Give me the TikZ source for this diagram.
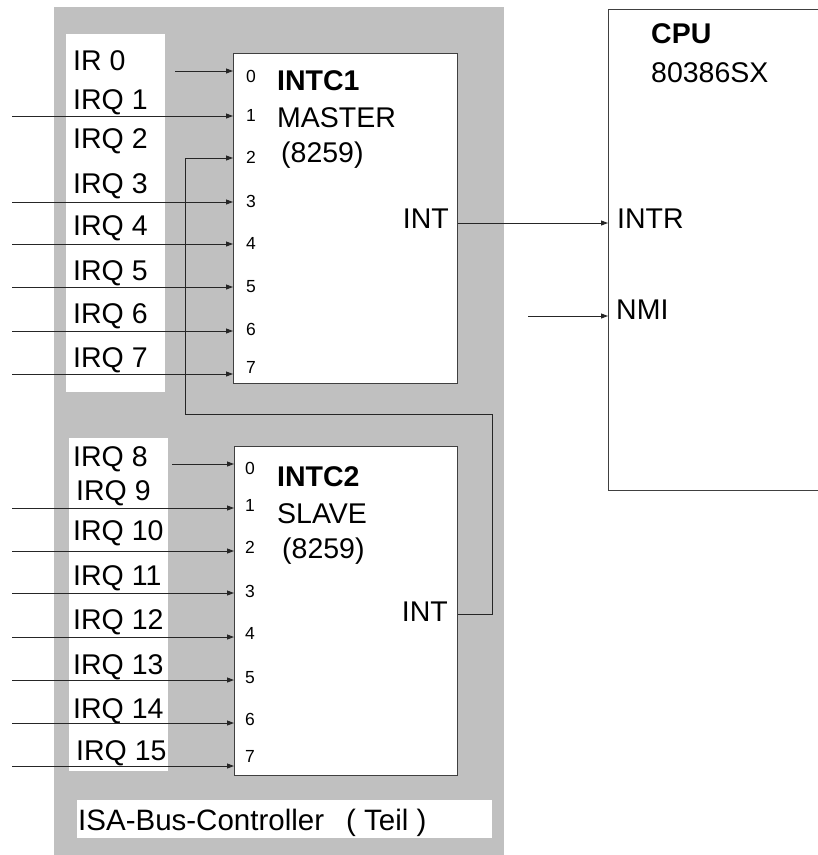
\documentclass[tikz,border=0pt]{standalone}
\usepackage{fontspec}
\setmainfont{Liberation Sans}
\usetikzlibrary{arrows.meta}
\definecolor{bggray}{HTML}{C0C0C0}
\definecolor{edge}{HTML}{404040}
\begin{document}
\begin{tikzpicture}[x=1pt,y=-1pt,
  lbl/.style={anchor=base west,inner sep=0pt,font=\fontsize{28.5}{32}\selectfont},
  pinlbl/.style={anchor=base west,inner sep=0pt,font=\fontsize{17.5}{20}\selectfont},
  blk/.style={draw=edge,line width=1.2pt,fill=white,anchor=north west,inner sep=0pt},
  whitecol/.style={fill=white,anchor=north west,inner sep=0pt},
  conn/.style={draw=black!85,line width=0.9pt},
  arr/.style={conn,-{Triangle[length=7pt,width=5pt]}}
]
\clip (0,0) rectangle (818,855);
\fill[white] (0,0) rectangle (818,855);
% background of the ISA bus controller
\node[fill=bggray,anchor=north west,inner sep=0pt,minimum width=450pt,minimum height=848pt] (isa) at (54,7) {};
\node[whitecol,minimum width=99pt,minimum height=358pt] (col1) at (66,34) {};
\node[whitecol,minimum width=99pt,minimum height=333pt] (col2) at (69,438) {};
\node[whitecol,minimum width=415pt,minimum height=38pt] (isalbl) at (77,800) {};
\node[lbl,font=\fontsize{29.5}{32}\selectfont] (isatext) at (78,830) {ISA-Bus-Controller\hspace{0.75em}( Teil )};

% blocks
\node[blk,minimum width=224pt,minimum height=330pt] (intc1) at (233,53) {};
\node[blk,minimum width=223pt,minimum height=329pt] (intc2) at (234,446) {};
\node[blk,minimum width=260pt,minimum height=481pt] (cpu) at (608,9) {};

% labels upper column
\node[lbl] (l0) at (73,70) {IR 0};
\node[lbl] (l1) at (73,109) {IRQ 1};
\node[lbl] (l2) at (73,148) {IRQ 2};
\node[lbl] (l3) at (73,193) {IRQ 3};
\node[lbl] (l4) at (73,235) {IRQ 4};
\node[lbl] (l5) at (73,280) {IRQ 5};
\node[lbl] (l6) at (73,323) {IRQ 6};
\node[lbl] (l7) at (73,367) {IRQ 7};
% labels lower column
\node[lbl] (l8) at (73,466) {IRQ 8};
\node[lbl] (l9) at (76,500) {IRQ 9};
\node[lbl] (l10) at (73,540) {IRQ 10};
\node[lbl] (l11) at (73,585) {IRQ 11};
\node[lbl] (l12) at (73,629) {IRQ 12};
\node[lbl] (l13) at (73,674) {IRQ 13};
\node[lbl] (l14) at (73,718) {IRQ 14};
\node[lbl] (l15) at (76,760) {IRQ 15};

% pin numbers INTC1
\node[pinlbl] (p10) at (246,82) {0};
\node[pinlbl] (p11) at (246,121) {1};
\node[pinlbl] (p12) at (246,163) {2};
\node[pinlbl] (p13) at (246,207) {3};
\node[pinlbl] (p14) at (246,249) {4};
\node[pinlbl] (p15) at (246,292) {5};
\node[pinlbl] (p16) at (246,335) {6};
\node[pinlbl] (p17) at (246,373) {7};
% pin numbers INTC2
\node[pinlbl] (p20) at (245,474) {0};
\node[pinlbl] (p21) at (245,511) {1};
\node[pinlbl] (p22) at (245,553) {2};
\node[pinlbl] (p23) at (245,597) {3};
\node[pinlbl] (p24) at (245,639) {4};
\node[pinlbl] (p25) at (245,683) {5};
\node[pinlbl] (p26) at (245,725) {6};
\node[pinlbl] (p27) at (245,762) {7};

% block texts
\node[lbl,font=\fontsize{28.5}{32}\selectfont\bfseries] (t1a) at (277,90) {INTC1};
\node[lbl] (t1b) at (277,127) {MASTER};
\node[lbl] (t1c) at (281,162) {(8259)};
\node[lbl,anchor=base east] (int1) at (449,228) {INT};
\node[lbl,font=\fontsize{28.5}{32}\selectfont\bfseries] (t2a) at (277,486) {INTC2};
\node[lbl] (t2b) at (277,523) {SLAVE};
\node[lbl] (t2c) at (282,558) {(8259)};
\node[lbl,anchor=base east] (int2) at (448,621) {INT};
\node[lbl,font=\fontsize{28.5}{32}\selectfont\bfseries] (cpua) at (651,43) {CPU};
\node[lbl] (cpub) at (651,82) {80386SX};
\node[lbl] (intr) at (617,228) {INTR};
\node[lbl] (nmi) at (616,319) {NMI};

% inputs INTC1
\coordinate (s10) at (175,71);
\coordinate (s11) at (12,116);
\coordinate (s12) at (185,158);
\coordinate (s13) at (12,202);
\coordinate (s14) at (12,244);
\coordinate (s15) at (12,287);
\coordinate (s16) at (12,331);
\coordinate (s17) at (12,374);
\foreach \i in {0,1,3,4,5,6,7} \draw[arr] (s1\i) -- (s1\i -| intc1.west);
% inputs INTC2
\coordinate (s20) at (172,464);
\coordinate (s21) at (12,508);
\coordinate (s22) at (12,551);
\coordinate (s23) at (12,593);
\coordinate (s24) at (12,637);
\coordinate (s25) at (12,680);
\coordinate (s26) at (12,723);
\coordinate (s27) at (12,766);
\foreach \i in {0,...,7} \draw[arr] (s2\i) -- (s2\i -| intc2.west);

% cascade: INTC2 INT -> INTC1 pin 2
\coordinate (o2) at (457,614);
\coordinate (bend) at (492,414);
\draw[arr] (o2 -| intc2.east) -| (bend) -| (s12) -- (s12 -| intc1.west);

% INTC1 INT -> CPU INTR
\coordinate (o1) at (457,223);
\draw[arr] (o1 -| intc1.east) -- (o1 -| cpu.west);
% NMI
\coordinate (snmi) at (528,316);
\draw[arr] (snmi) -- (snmi -| cpu.west);
\end{tikzpicture}
\end{document}
